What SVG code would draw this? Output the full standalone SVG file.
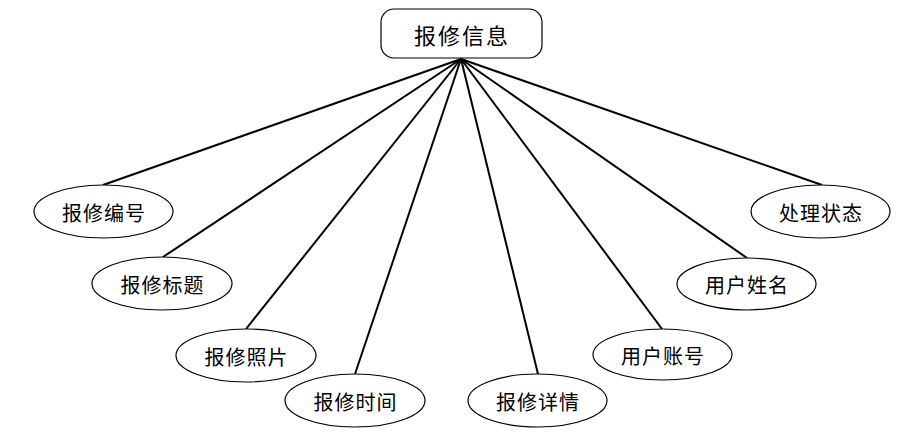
<svg xmlns="http://www.w3.org/2000/svg" width="898" height="436" viewBox="0 0 898 436">
<style>
.n{fill:#fff;stroke:#000;stroke-width:1.2}
.t{font-family:"Noto Sans CJK SC","Noto Sans",sans-serif;font-size:20px;fill:#000;text-anchor:middle;dominant-baseline:central;letter-spacing:1px}
.tt{font-size:22px;letter-spacing:2px}
.c{stroke:#000;stroke-width:2;fill:none}
</style>
<rect width="898" height="436" fill="#fff"/>
<g id="connectors">
<line class="c" x1="461" y1="59" x2="103" y2="185"/>
<line class="c" x1="461" y1="59" x2="163" y2="257"/>
<line class="c" x1="461" y1="59" x2="246" y2="329"/>
<line class="c" x1="461" y1="59" x2="355" y2="374"/>
<line class="c" x1="461" y1="59" x2="538" y2="374"/>
<line class="c" x1="461" y1="59" x2="662" y2="329"/>
<line class="c" x1="461" y1="59" x2="747" y2="258"/>
<line class="c" x1="461" y1="59" x2="822" y2="185"/>
</g>
<g id="root"><rect class="n" x="381" y="9" width="161" height="49" rx="13"/><text class="t tt" x="462" y="34">报修信息</text></g>
<g id="n1"><ellipse class="n" cx="103.5" cy="211.5" rx="69.5" ry="26.5"/><text class="t" x="104" y="212">报修编号</text></g>
<g id="n2"><ellipse class="n" cx="162" cy="283.5" rx="70" ry="26.5"/><text class="t" x="162.5" y="284">报修标题</text></g>
<g id="n3"><ellipse class="n" cx="246" cy="355.5" rx="70" ry="26.5"/><text class="t" x="246.5" y="356">报修照片</text></g>
<g id="n4"><ellipse class="n" cx="355" cy="400.5" rx="70" ry="26.5"/><text class="t" x="355.5" y="401">报修时间</text></g>
<g id="n5"><ellipse class="n" cx="537.5" cy="400.5" rx="69.5" ry="26.5"/><text class="t" x="538" y="401">报修详情</text></g>
<g id="n6"><ellipse class="n" cx="662.5" cy="354.5" rx="69.5" ry="25.5"/><text class="t" x="663" y="355">用户账号</text></g>
<g id="n7"><ellipse class="n" cx="746.5" cy="284" rx="69.5" ry="26"/><text class="t" x="747" y="284.5">用户姓名</text></g>
<g id="n8"><ellipse class="n" cx="820.5" cy="211.5" rx="69.5" ry="26.5"/><text class="t" x="821" y="212">处理状态</text></g>
</svg>
